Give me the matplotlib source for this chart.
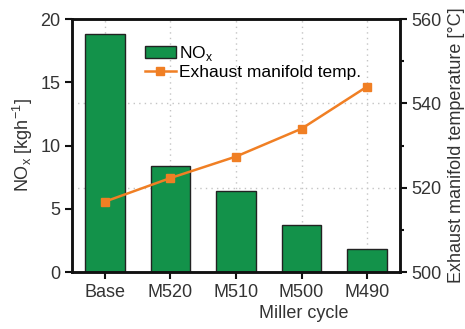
import matplotlib.pyplot as plt
from matplotlib.ticker import MultipleLocator
from matplotlib.transforms import blended_transform_factory

# Miller cycle cases
cases = ["Base", "M520", "M510", "M500", "M490"]
nox = [18.8, 8.4, 6.4, 3.7, 1.8]               # kg/h
manifold_temp = [516.7, 522.3, 527.4, 534.0, 544.0]  # deg C

green = "#13924a"
orange = "#f07f24"

plt.rcParams["font.family"] = ["Liberation Sans", "DejaVu Sans"]
plt.rcParams["font.size"] = 13

fig = plt.figure(figsize=(4.65, 3.29), dpi=100)
ax = fig.add_axes([0.155, 0.173, 0.705, 0.769])
ax2 = ax.twinx()

x = list(range(len(cases)))

# dotted grid (horizontal lines follow the temperature axis), kept behind bars
grid_kw = dict(color="#c4c4c4", lw=1.0, ls=(0, (1, 3)), zorder=0)
for xi in x:
    ax.axvline(xi, **grid_kw)
tr = blended_transform_factory(ax.transAxes, ax2.transData)
for t in [520, 540]:
    ax.plot([0, 1], [t, t], transform=tr, **grid_kw)

ax.bar(x, nox, width=0.6, color=green, edgecolor="#222222", lw=1.0,
       zorder=2, label=r"NO$_\mathregular{x}$")
ax.set_xlim(-0.5, 4.5)
ax.set_ylim(0, 20)
ax.yaxis.set_major_locator(MultipleLocator(5))
ax.set_xticks(x)
ax.set_xticklabels(cases)
ax.set_ylabel(r"NO$_\mathregular{x}$ [kgh$^\mathregular{-1}$]",
              color="#333333", fontsize=13)
ax.set_xlabel("Miller cycle", color="#333333", fontsize=13)
ax.xaxis.set_label_coords(0.707, -0.13)

ax2.plot(x, manifold_temp, color=orange, lw=1.8, marker="s", ms=6,
         label="Exhaust manifold temp.", zorder=3)
ax2.set_ylim(500, 560)
ax2.yaxis.set_major_locator(MultipleLocator(20))
ax2.yaxis.set_minor_locator(MultipleLocator(10))
ax2.set_ylabel("Exhaust manifold temperature [°C]", color="#333333",
               fontsize=13)

for a in (ax, ax2):
    for s in a.spines.values():
        s.set_linewidth(1.8)
        s.set_color("#111111")
    a.tick_params(direction="out", width=1.5, length=5, colors="#111111",
                  labelcolor="#333333")
ax2.tick_params(which="minor", direction="out", width=1.5, length=3,
                colors="#111111")

h1, l1 = ax.get_legend_handles_labels()
h2, l2 = ax2.get_legend_handles_labels()
ax2.legend(h1 + h2, l1 + l2, loc="upper left", bbox_to_anchor=(0.2, 0.93),
           frameon=False, handlelength=1.8, handletextpad=0.2,
           labelspacing=0.1, borderaxespad=0, fontsize=12.5)

fig.savefig("out.png", dpi=100)
